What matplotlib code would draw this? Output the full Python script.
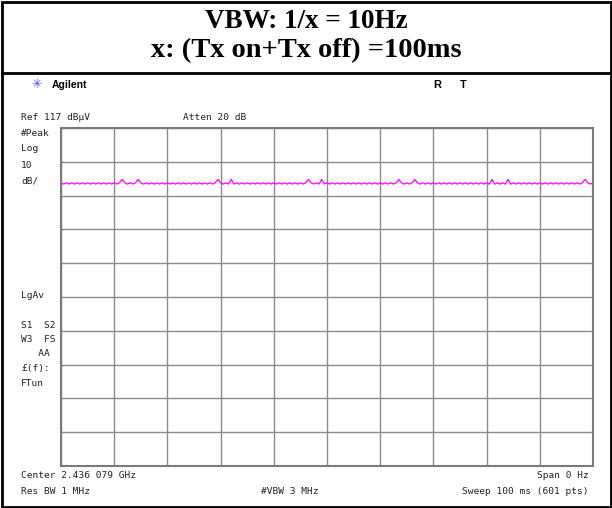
import matplotlib
matplotlib.use('Agg')
import matplotlib.pyplot as plt
from matplotlib.patches import Rectangle
import numpy as np

# zero span sweep, 100 ms, values in dBuV (sampled every 0.5 ms)
sweep_ms = np.arange(0, 100.5, 0.5)
level_dbuv = [
    100.8, 100.4, 100.8, 100.4, 100.8, 100.4, 100.8, 100.4, 100.8, 100.4,
    100.8, 100.4, 100.8, 100.4, 100.8, 100.4, 100.8, 100.4, 100.8, 100.4,
    100.8, 100.4, 100.8, 101.8, 100.8, 100.4, 100.8, 100.4, 100.8, 101.8,
    100.8, 100.4, 100.8, 100.4, 100.8, 100.4, 100.8, 100.4, 100.8, 100.4,
    100.8, 100.4, 100.8, 100.4, 100.8, 100.4, 100.8, 100.4, 100.8, 100.4,
    100.8, 100.4, 100.8, 100.4, 100.8, 100.4, 100.8, 100.4, 100.8, 101.8,
    100.8, 100.4, 100.8, 100.4, 101.8, 100.4, 100.8, 100.4, 100.8, 100.4,
    100.8, 100.4, 100.8, 100.4, 100.8, 100.4, 100.8, 100.4, 100.8, 100.4,
    100.8, 100.4, 100.8, 100.4, 100.8, 100.4, 100.8, 100.4, 100.8, 100.4,
    100.8, 100.4, 100.8, 101.8, 100.8, 100.4, 100.8, 100.4, 101.8, 100.4,
    100.8, 100.4, 100.8, 100.4, 100.8, 100.4, 100.8, 100.4, 100.8, 100.4,
    100.8, 100.4, 100.8, 100.4, 100.8, 100.4, 100.8, 100.4, 100.8, 100.4,
    100.8, 100.4, 100.8, 100.4, 100.8, 100.4, 100.8, 101.8, 100.8, 100.4,
    100.8, 100.4, 100.8, 101.8, 100.8, 100.4, 100.8, 100.4, 100.8, 100.4,
    100.8, 100.4, 100.8, 100.4, 100.8, 100.4, 100.8, 100.4, 100.8, 100.4,
    100.8, 100.4, 100.8, 100.4, 100.8, 100.4, 100.8, 100.4, 100.8, 100.4,
    100.8, 100.4, 101.8, 100.4, 100.8, 100.4, 100.8, 100.4, 101.8, 100.4,
    100.8, 100.4, 100.8, 100.4, 100.8, 100.4, 100.8, 100.4, 100.8, 100.4,
    100.8, 100.4, 100.8, 100.4, 100.8, 100.4, 100.8, 100.4, 100.8, 100.4,
    100.8, 100.4, 100.8, 100.4, 100.8, 100.4, 100.8, 101.8, 100.8, 100.4,
    100.8,
]

ref_level = 117
db_per_div = 10
title_lines = ['VBW: 1/x = 10Hz', 'x: (Tx on+Tx off) =100ms']
left_labels = [('#Peak', 133), ('Log', 149), ('10', 165), ('dB/', 181),
               ('LgAv', 295), ('S1  S2', 326), ('W3  FS', 340), ('   AA', 354),
               ('£(f):', 369), ('FTun', 384)]

W, H = 612, 508
fig = plt.figure(figsize=(W / 100, H / 100), dpi=100)

def fx(x):
    return x / W

def fy(y):
    return 1 - y / H

# outer frame and title separator
fig.patches.append(Rectangle((fx(1.5), fy(506.5)), fx(609), 505 / H,
                             transform=fig.transFigure, fill=False,
                             ec='black', lw=2))
fig.add_artist(plt.Line2D([fx(1.5), fx(610.5)], [fy(72.5), fy(72.5)],
                          transform=fig.transFigure, c='black', lw=2))

serif = dict(family='Liberation Serif', weight='bold',
             ha='center', va='center')
fig.text(0.5, fy(22), title_lines[0], fontsize=19.5, **serif)
fig.text(0.5, fy(51), title_lines[1], fontsize=20.5, **serif)

mono = dict(family='DejaVu Sans Mono', fontsize=6.8, va='center', color='#222222')

fig.text(fx(37), fy(85), '\u2733', fontsize=9, color='#5050ff',
         ha='center', va='center', family='DejaVu Sans')
fig.text(fx(52), fy(85), 'Agilent', fontsize=7.5, weight='bold',
         family='Liberation Sans', va='center')
fig.text(fx(437), fy(85), 'R', fontsize=8, weight='bold',
         family='Liberation Sans', va='center', ha='center')
fig.text(fx(463), fy(85), 'T', fontsize=8, weight='bold',
         family='Liberation Sans', va='center', ha='center')

fig.text(fx(21), fy(118), f'Ref {ref_level} dB\u03bcV', **mono)
fig.text(fx(183), fy(118), 'Atten 20 dB', **mono)

for txt, y in left_labels:
    fig.text(fx(21), fy(y), txt, **mono)

fig.text(fx(21), fy(476), 'Center 2.436 079 GHz', **mono)
fig.text(fx(589), fy(476), 'Span 0 Hz', ha='right', **mono)
fig.text(fx(21), fy(492), 'Res BW 1 MHz', **mono)
fig.text(fx(290), fy(492), '#VBW 3 MHz', ha='center', **mono)
fig.text(fx(589), fy(492), 'Sweep 100 ms (601 pts)', ha='right', **mono)

# graticule
ax = fig.add_axes([fx(61), fy(466), fx(532), 338 / H])
ax.plot(sweep_ms, level_dbuv, c='#ff00ff', lw=0.9)
ax.set_xlim(0, 100)
ax.set_ylim(ref_level - 10 * db_per_div, ref_level)
ax.set_xticks(np.arange(0, 101, 10))
ax.set_yticks(np.arange(ref_level - 10 * db_per_div, ref_level + 1, db_per_div))
ax.grid(True, c='#8c8c8c', lw=1)
ax.tick_params(length=0, labelbottom=False, labelleft=False)
for s in ax.spines.values():
    s.set_color('#7a7a7a')
    s.set_linewidth(1.5)

fig.savefig('out.png', dpi=100)
